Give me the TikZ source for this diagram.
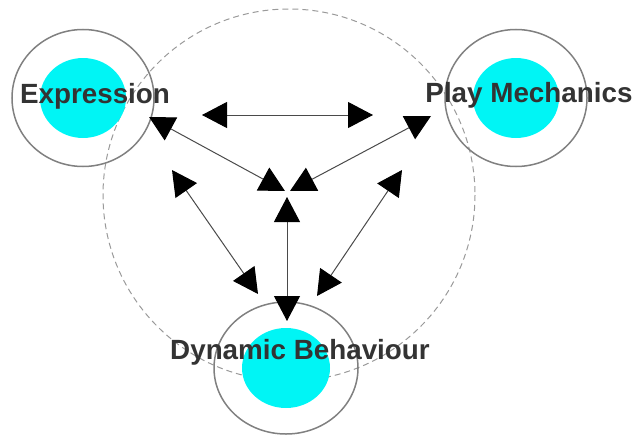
\documentclass[tikz,border=0pt]{standalone}
\usepackage{fontspec}
\setmainfont{Liberation Sans}
\usetikzlibrary{arrows.meta,shapes.geometric}
\definecolor{ringgray}{HTML}{808080}
\definecolor{dashgray}{HTML}{9A9A9A}
\definecolor{txtgray}{HTML}{333333}
\definecolor{linegray}{HTML}{4A4A4A}
\definecolor{aqua}{HTML}{00F5F5}
\tikzset{
  ring/.style={draw=ringgray, line width=1.5pt},
  core/.style={fill=aqua},
  lbl/.style={text=txtgray, font=\fontsize{27.8}{30}\selectfont\bfseries, inner sep=0pt},
  tipshape/.tip={Triangle[length=25pt,width=26pt,black]},
  link/.style={draw=linegray, line width=1pt, tipshape-tipshape},
}
\begin{document}
\begin{tikzpicture}[x=1pt,y=-1pt]
\useasboundingbox (0,0) rectangle (636,436);
% big dashed circle
\draw[dashgray, line width=1pt, dash pattern=on 6pt off 4pt] (289,195) circle [radius=186];
% rings and cores
\node[ring, ellipse, minimum width=142pt, minimum height=137pt, inner sep=0pt] (ringE) at (83,98) {};
\node[ring, ellipse, minimum width=142pt, minimum height=137pt, inner sep=0pt] (ringP) at (516,98) {};
\node[ring, ellipse, minimum width=144pt, minimum height=132pt, inner sep=0pt] (ringD) at (286,368) {};
\node[core, ellipse, minimum width=86pt, minimum height=80pt, inner sep=0pt] (coreE) at (83,98) {};
\node[core, ellipse, minimum width=86pt, minimum height=80pt, inner sep=0pt] (coreP) at (516,98) {};
\node[core, ellipse, minimum width=88pt, minimum height=80pt, inner sep=0pt] (coreD) at (286,368) {};
% labels
\node[lbl] (tE) at (95,96) {Expression};
\node[lbl] (tP) at (529,95) {Play Mechanics};
\node[lbl] (tD) at (300,352) {Dynamic Behaviour};
% arrow end points
\coordinate (hL) at (202,115);
\coordinate (hR) at (373,115);
\coordinate (eT) at (149,117);
\coordinate (cE) at (285,191);
\coordinate (pT) at (431,116);
\coordinate (cP) at (290,191);
\coordinate (cD) at (287,197);
\coordinate (dT) at (287,321);
\coordinate (lT) at (172,170);
\coordinate (lB) at (258,294);
\coordinate (rT) at (402,170);
\coordinate (rB) at (317,296);
% connectors
\draw[link] (hL) -- (hR);
\draw[link] (eT) -- (cE);
\draw[link] (pT) -- (cP);
\draw[link] (cD) -- (dT);
\draw[link] (lT) -- (lB);
\draw[link] (rT) -- (rB);
\end{tikzpicture}
\end{document}
